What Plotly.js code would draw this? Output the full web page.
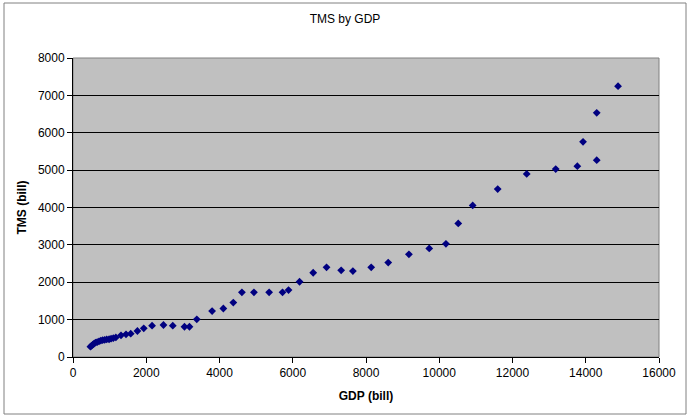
<!DOCTYPE html>
<html>
<head>
<meta charset="utf-8">
<script src="https://cdn.plot.ly/plotly-3.0.1.min.js"></script>
<style>html,body{margin:0;padding:0;background:#fff;}#chart{width:690px;height:418px;}</style>
</head>
<body>
<div id="chart"></div>
<script>
var gdp = [475, 505, 540, 575, 615, 660, 710, 760, 810, 865, 920, 985, 1040, 1100, 1170,
  1311, 1448, 1576, 1759, 1932, 2159, 2470, 2724, 3044, 3180, 3380,
  3798, 4105, 4377, 4612, 4940, 5355, 5721, 5885, 6186, 6558, 6923, 7322, 7642, 8142,
  8607, 9172, 9727, 10183, 10519, 10913, 11596, 12388, 13180, 13770, 14300, 13926, 14300, 14882];
var tms = [275, 300, 330, 360, 385, 400, 420, 440, 450, 460, 470, 475, 490, 505, 525,
  580, 607, 623, 695, 767, 837, 856, 837, 810, 810, 1008,
  1230, 1297, 1457, 1730, 1730, 1730, 1730, 1791, 2013, 2254, 2398, 2318, 2299, 2398,
  2527, 2746, 2906, 3029, 3574, 4056, 4492, 4897, 5027, 5107, 5267, 5757, 6532, 7246];
var xTicks = [0, 2000, 4000, 6000, 8000, 10000, 12000, 14000, 16000];
var yTicks = [0, 1000, 2000, 3000, 4000, 5000, 6000, 7000, 8000];

var trace = {
  x: gdp, y: tms, type: 'scatter', mode: 'markers',
  marker: {symbol: 'diamond', size: 6, color: '#000080', line: {width: 0}},
  hoverinfo: 'x+y'
};
var fontFam = '"Liberation Sans", Arial, sans-serif';
var layout = {
  width: 690, height: 418,
  margin: {l: 73, r: 31, t: 58, b: 61, pad: 0},
  paper_bgcolor: '#ffffff',
  plot_bgcolor: '#c0c0c0',
  showlegend: false,
  font: {family: fontFam, size: 12, color: '#000'},
  title: {text: 'TMS by GDP', font: {family: fontFam, size: 12, color: '#000'}, x: 0.5, xanchor: 'center', y: 0.955, yanchor: 'middle'},
  xaxis: {
    range: [0, 16000], tickvals: xTicks, ticktext: xTicks.map(String),
    showgrid: false, zeroline: false,
    showline: true, linecolor: '#000', linewidth: 1,
    ticks: 'outside', ticklen: 5, tickcolor: '#000', tickwidth: 1,
    tickfont: {family: fontFam, size: 12, color: '#000'},
    title: {text: '<b>GDP (bill)</b>', font: {family: fontFam, size: 12, color: '#000'}, standoff: 12},
    mirror: false
  },
  yaxis: {
    range: [0, 8000], tickvals: yTicks, ticktext: yTicks.map(String),
    showgrid: true, gridcolor: '#000', gridwidth: 1,
    zeroline: false,
    showline: true, linecolor: '#000', linewidth: 1,
    ticks: 'outside', ticklen: 5, tickcolor: '#000', tickwidth: 1,
    tickfont: {family: fontFam, size: 12, color: '#000'},
    title: {text: '<b>TMS (bill)</b>', font: {family: fontFam, size: 12, color: '#000'}, standoff: 8}
  },
  shapes: [
    {type: 'rect', xref: 'paper', yref: 'paper', x0: 0, x1: 1, y0: 0, y1: 1,
     line: {color: '#808080', width: 1}, fillcolor: 'rgba(0,0,0,0)', layer: 'below'},
    {type: 'rect', xref: 'paper', yref: 'paper', x0: -69/586, x1: 1 + 27/586, y0: -57/299, y1: 1 + 55/299,
     line: {color: '#808080', width: 1}, fillcolor: 'rgba(0,0,0,0)'}
  ]
};
Plotly.newPlot('chart', [trace], layout, {displayModeBar: false, staticPlot: true});
</script>
</body>
</html>
